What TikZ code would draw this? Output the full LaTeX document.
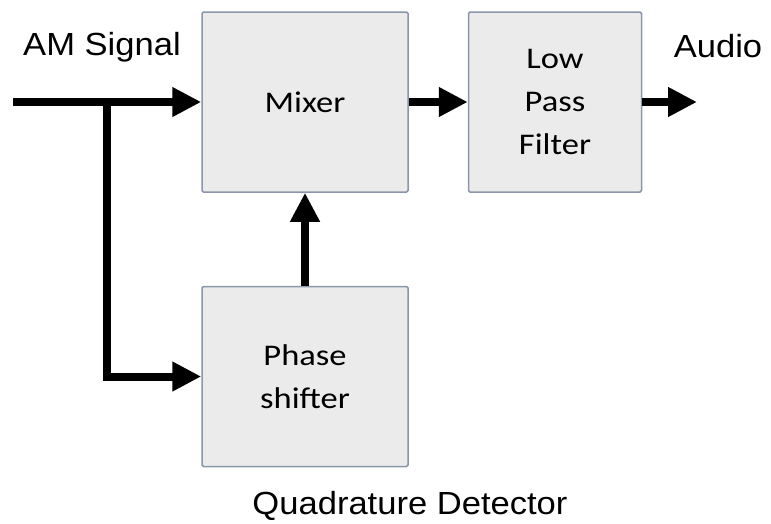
\documentclass[tikz,border=0pt]{standalone}
\usepackage{fontspec}
\setmainfont{Liberation Sans}[FakeStretch=1.08]
\newfontfamily\boxfont{Carlito}[FakeStretch=1.15]
\usetikzlibrary{positioning,arrows.meta}
\definecolor{boxfill}{HTML}{EBEBEB}
\definecolor{boxline}{HTML}{8A96AA}

\begin{document}
\begin{tikzpicture}[
  x=1pt, y=-1pt,
  block/.style = {
    draw = boxline,
    line width = 1.5pt,
    fill = boxfill,
    rounded corners = 1.5pt,
    minimum width = 206pt,
    minimum height = 180pt,
    inner sep = 0pt,
    align = center,
    font = \boxfont\fontsize{30}{43}\selectfont,
  },
  sigtext/.style = {
    anchor = base,
    font = \fontsize{32}{38}\selectfont,
  },
  sig/.style = {
    line width = 8pt,
    -{Triangle[length=29pt,width=28pt]},
  },
]

  \useasboundingbox (0,0) rectangle (771,523);

  \node[block] (mixer) at (305,102) {Mixer};
  \node[block,minimum width=173pt] (lpf) [right=59pt of mixer] {Low\\Pass\\Filter};
  \node[block] (phase) [below=93pt of mixer] {Phase\\shifter};

  \coordinate (in) at (13,102);
  \coordinate (br) at (107,102);
  \coordinate (out) at (697,102);

  \node[sigtext] (am) at (102,55) {AM Signal};
  \node[sigtext] (audio) at (718,57) {Audio};
  \node[sigtext] (title) at (410,514) {Quadrature Detector};

  \draw[sig] (in) -- (mixer);
  \draw[sig] (br) |- (phase);
  \draw[sig] (phase) -- (mixer);
  \draw[sig] (mixer) -- (lpf);
  \draw[sig] (lpf) -- (out);

\end{tikzpicture}
\end{document}
